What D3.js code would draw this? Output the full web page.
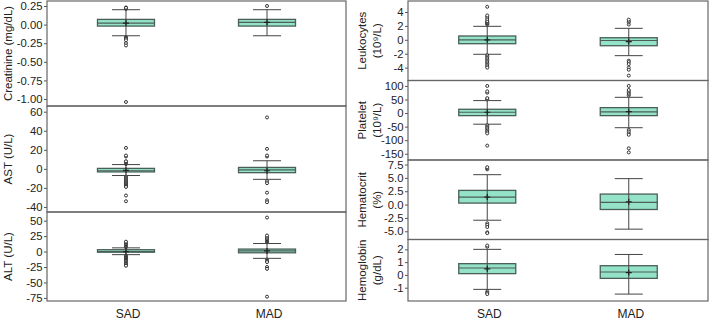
<!DOCTYPE html>
<html>
<head>
<meta charset="utf-8">
<script src="https://cdn.jsdelivr.net/npm/d3@7"></script>
<style>
  body { margin: 0; background: #fff; }
  text { font-family: "Liberation Sans", Arial, sans-serif; fill: #222; }
</style>
</head>
<body>
<script>
// groups on the x axis
const groups = ["SAD", "MAD"];

// box stats: lo/hi = whisker ends, out = outliers
const creatinine = [
  {group: "SAD", lo: -0.15, q1: -0.02, med: 0.02, q3: 0.07, hi: 0.20, mean: 0.02,
   out: [0.21, 0.22, 0.23, 0.225, -0.17, -0.18, -0.19, -0.21, -0.25, -0.28, -1.04]},
  {group: "MAD", lo: -0.15, q1: -0.02, med: 0.03, q3: 0.07, hi: 0.20, mean: 0.03,
   out: [0.25]}
];
const ast = [
  {group: "SAD", lo: -7, q1: -3.2, med: -2, q3: 0.5, hi: 4.5, mean: -1.5,
   out: [5, 6, 6.5, 7, 7.5, 8, 13, 14, 22, -8, -9, -10, -11, -12, -13, -14, -15, -16, -17, -18, -19, -28, -34]},
  {group: "MAD", lo: -11, q1: -4, med: -1, q3: 1.5, hi: 8.5, mean: -2,
   out: [13, 14, 21, 54, -13, -15, -25, -33, -35]}
];
const alt = [
  {group: "SAD", lo: -5, q1: -1, med: 0, q3: 3, hi: 6, mean: 0,
   out: [7, 8, 9, 10, 11, 12, 13, 14, 15, 16, -7, -8, -9, -10, -11, -12, -13, -14, -15, -16, -18, -20, -22, -23]},
  {group: "MAD", lo: -11, q1: -2, med: 1, q3: 4, hi: 13, mean: 1,
   out: [15, 16, 17, 18, 19, 20, 22, 24, 26, 55, -13, -15, -17, -25, -28, -73]}
];
const leukocytes = [
  {group: "SAD", lo: -2.08, q1: -0.56, med: 0, q3: 0.55, hi: 1.94, mean: 0,
   out: [2.2, 2.3, 2.4, 2.5, 2.6, 2.7, 3.0, 3.3, 3.5, 4.75, -2.2, -2.4, -2.6, -2.8, -3.0, -3.2, -3.4, -3.6, -3.8, -4.0]},
  {group: "MAD", lo: -2.28, q1: -0.85, med: -0.1, q3: 0.3, hi: 1.65, mean: -0.25,
   out: [2.2, 2.5, 2.7, 2.9, -3.0, -3.2, -3.5, -4.0, -4.3, -5.15]}
];
const platelet = [
  {group: "SAD", lo: -41, q1: -9.5, med: 3, q3: 14, hi: 46, mean: 3,
   out: [50, 52, 55, 75, 80, 100, -45, -50, -55, -60, -65, -70, -75, -120]},
  {group: "MAD", lo: -54, q1: -9.5, med: 4, q3: 20, hi: 58, mean: 5,
   out: [65, 70, 75, 80, 85, 100, -62, -68, -75, -80, -130, -145]}
];
const hematocrit = [
  {group: "SAD", lo: -2.93, q1: 0.28, med: 1.4, q3: 2.66, hi: 5.6, mean: 1.4,
   out: [6.6, 6.8, 7.0, -3.5, -3.8, -4.2, -5.2, -5.35]},
  {group: "MAD", lo: -4.6, q1: -0.92, med: 0.4, q3: 1.97, hi: 4.86, mean: 0.53,
   out: []}
];
const hemoglobin = [
  {group: "SAD", lo: -1.13, q1: 0.1, med: 0.54, q3: 0.88, hi: 2.0, mean: 0.48,
   out: [2.2, 2.3, -1.3, -1.4, -1.5]},
  {group: "MAD", lo: -1.5, q1: -0.27, med: 0.23, q3: 0.72, hi: 1.6, mean: 0.18,
   out: []}
];

// tick labels per panel
const creatinineTicks = [0.25, 0, -0.25, -0.5, -0.75, -1.0];
const astTicks = [60, 40, 20, 0, -20, -40];
const altTicks = [50, 25, 0, -25, -50, -75];
const leukocyteTicks = [4, 2, 0, -2, -4];
const plateletTicks = [100, 50, 0, -50, -100, -150];
const hematocritTicks = [7.5, 5, 2.5, 0, -2.5, -5];
const hemoglobinTicks = [2, 1, 0, -1];

const panels = [
  {data: creatinine, ticks: creatinineTicks, fmt: ".2f", domain: [-1.094, 0.317], title: ["Creatinine (mg/dL)"], col: 0, top: 1, bottom: 106},
  {data: ast, ticks: astTicks, fmt: "d", domain: [-45.3, 66], title: ["AST (U/L)"], col: 0, top: 106, bottom: 212},
  {data: alt, ticks: altTicks, fmt: "d", domain: [-80, 64], title: ["ALT (U/L)"], col: 0, top: 212, bottom: 301},
  {data: leukocytes, ticks: leukocyteTicks, fmt: "d", domain: [-5.85, 5.58], title: ["Leukocytes", "(10⁹/L)"], col: 1, top: 1, bottom: 80.5},
  {data: platelet, ticks: plateletTicks, fmt: "d", domain: [-173, 120], title: ["Platelet", "(10⁹/L)"], col: 1, top: 80.5, bottom: 160},
  {data: hematocrit, ticks: hematocritTicks, fmt: ".1f", domain: [-6.54, 8.35], title: ["Hematocrit", "(%)"], col: 1, top: 160, bottom: 239.5},
  {data: hemoglobin, ticks: hemoglobinTicks, fmt: "d", domain: [-2.04, 2.77], title: ["Hemoglobin", "(g/dL)"], col: 1, top: 239.5, bottom: 301}
];

function main(){
    const width = 709, height = 321;
    const cols = [{x0: 47, x1: 346, titleX: [8]}, {x0: 408, x1: 708, titleX: [362, 377]}];
    const boxW = 57, capW = 28;
    const fill = "#94e2c7", stroke = "#4a5f58", lineCol = "#444";

    const svg = d3.select("body").append("svg")
        .attr("width", width)
        .attr("height", height);

    panels.forEach(p => {
        const c = cols[p.col];
        const x = d3.scalePoint().domain(groups).range([c.x0, c.x1]).padding(0.56);
        const y = d3.scaleLinear().domain(p.domain).range([p.bottom, p.top]);
        const g = svg.append("g");

        // y axis
        const ax = g.append("g")
            .attr("transform", "translate(" + c.x0 + ",0)")
            .call(d3.axisLeft(y).tickValues(p.ticks).tickSize(3).tickPadding(1.5)
                .tickFormat(d => d3.format(p.fmt)(d).replace("−", "-")));
        ax.select(".domain").remove();
        ax.selectAll("line").attr("stroke", "#555");
        ax.selectAll("text").style("font-size", "11.3px").attr("fill", "#222")
            .style("font-family", "'Liberation Sans', Arial, sans-serif");

        // frame
        g.append("rect")
            .attr("x", c.x0).attr("y", p.top)
            .attr("width", c.x1 - c.x0).attr("height", p.bottom - p.top)
            .attr("fill", "none").attr("stroke", "#666").attr("stroke-width", 1.2);

        // title
        p.title.forEach((t, i) => {
            const tx = p.title.length === 1 ? c.titleX[0] : c.titleX[i];
            g.append("text")
                .attr("transform", "translate(" + tx + "," + (p.top + p.bottom) / 2 + ") rotate(-90)")
                .attr("text-anchor", "middle")
                .attr("dy", "0.35em")
                .style("font-size", "11.5px")
                .text(t);
        });

        const b = g.selectAll(".box").data(p.data).join("g");

        // whisker caps
        b.selectAll(".cap").data(d => [d.lo, d.hi].map(v => ({v: v, group: d.group}))).join("line")
            .attr("x1", d => x(d.group) - capW / 2).attr("x2", d => x(d.group) + capW / 2)
            .attr("y1", d => y(d.v)).attr("y2", d => y(d.v))
            .attr("stroke", lineCol).attr("stroke-width", 1);

        // box
        b.append("rect")
            .attr("x", d => x(d.group) - boxW / 2)
            .attr("y", d => y(d.q3))
            .attr("width", boxW)
            .attr("height", d => y(d.q1) - y(d.q3))
            .attr("fill", fill).attr("stroke", stroke).attr("stroke-width", 1.3);

        // whisker line through the box
        b.append("line")
            .attr("x1", d => x(d.group)).attr("x2", d => x(d.group))
            .attr("y1", d => y(d.lo)).attr("y2", d => y(d.hi))
            .attr("stroke", lineCol).attr("stroke-width", 1);

        // median
        b.append("line")
            .attr("x1", d => x(d.group) - boxW / 2).attr("x2", d => x(d.group) + boxW / 2)
            .attr("y1", d => y(d.med)).attr("y2", d => y(d.med))
            .attr("stroke", stroke).attr("stroke-width", 1.2);

        // mean "+"
        b.append("path")
            .attr("d", d => {
                const cx = x(d.group), cy = y(d.mean);
                return "M" + (cx - 3) + "," + cy + "H" + (cx + 3) + "M" + cx + "," + (cy - 3) + "V" + (cy + 3);
            })
            .attr("stroke", "#222").attr("stroke-width", 1.2);

        // outliers
        b.selectAll("circle").data(d => d.out.map(v => ({v: v, group: d.group}))).join("circle")
            .attr("cx", d => x(d.group)).attr("cy", d => y(d.v))
            .attr("r", 1.5)
            .attr("fill", "#fff").attr("stroke", "#333").attr("stroke-width", 1);
    });

    // x labels under each column
    cols.forEach(c => {
        const x = d3.scalePoint().domain(groups).range([c.x0, c.x1]).padding(0.56);
        svg.selectAll(null).data(groups).join("text")
            .attr("x", d => x(d) + 2)
            .attr("y", 318)
            .attr("text-anchor", "middle")
            .style("font-size", "12px")
            .text(d => d);
    });
}
main();
</script>
</body>
</html>
